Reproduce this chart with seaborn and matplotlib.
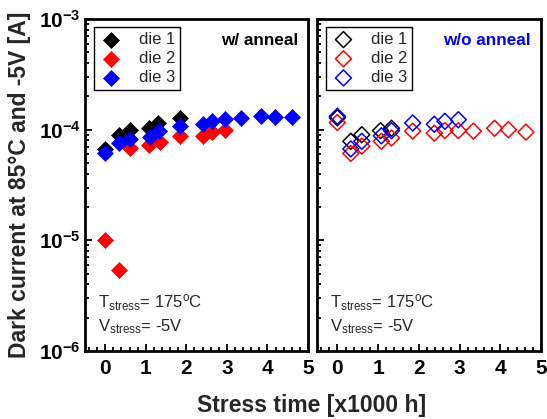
import numpy as np
import pandas as pd
import matplotlib
matplotlib.use("Agg")
import matplotlib.pyplot as plt
import seaborn as sns
from matplotlib.ticker import LogLocator, MultipleLocator, FuncFormatter, NullFormatter

# ---- data ----
dies = ["die 1", "die 2", "die 3"]
colors = ["black", "red", "blue"]

# with anneal
wa_t1 = [0.0, 0.33, 0.6, 1.08, 1.31, 1.85]
wa_i1 = [6.7e-5, 9.0e-5, 1.0e-4, 1.03e-4, 1.15e-4, 1.27e-4]
wa_t2 = [0.0, 0.35, 0.6, 1.08, 1.35, 1.85, 2.41, 2.64, 2.95]
wa_i2 = [1.0e-5, 5.4e-6, 6.9e-5, 7.2e-5, 7.7e-5, 8.7e-5, 8.7e-5, 9.5e-5, 9.9e-5]
wa_t3 = [0.0, 0.33, 0.6, 1.1, 1.33, 1.85, 2.41, 2.64, 2.95, 3.35, 3.85, 4.18, 4.6]
wa_i3 = [6.2e-5, 7.5e-5, 8.2e-5, 8.5e-5, 9.8e-5, 1.09e-4, 1.12e-4, 1.19e-4, 1.25e-4,
         1.27e-4, 1.34e-4, 1.30e-4, 1.30e-4]

# without anneal
wo_t1 = [0.0, 0.33, 0.6, 1.06, 1.33]
wo_i1 = [1.28e-4, 7.85e-5, 9.0e-5, 9.8e-5, 1.03e-4]
wo_t2 = [0.0, 0.33, 0.6, 1.08, 1.33, 1.85, 2.38, 2.64, 2.97, 3.34, 3.86, 4.2, 4.63]
wo_i2 = [1.16e-4, 6.1e-5, 7.1e-5, 7.85e-5, 8.4e-5, 9.7e-5, 9.3e-5, 9.8e-5, 9.8e-5,
         9.7e-5, 1.03e-4, 1.0e-4, 9.5e-5]
wo_t3 = [0.0, 0.33, 0.6, 1.08, 1.33, 1.85, 2.38, 2.64, 2.97]
wo_i3 = [1.32e-4, 6.7e-5, 7.85e-5, 8.8e-5, 9.8e-5, 1.15e-4, 1.12e-4, 1.19e-4, 1.23e-4]

panel_titles = ["w/ anneal", "w/o anneal"]
title_colors = ["black", "blue"]
xticks = [0, 1, 2, 3, 4, 5]
ylabel = "Dark current at 85\u00b0C and -5V [A]"
xlabel = "Stress time [x1000 h]"

sns.set_theme(style="ticks")
plt.rcParams["font.family"] = ["Liberation Sans", "DejaVu Sans"]
plt.rcParams["mathtext.fontset"] = "custom"
plt.rcParams["mathtext.rm"] = "Liberation Sans"
plt.rcParams["mathtext.it"] = "Liberation Sans:italic"
plt.rcParams["mathtext.bf"] = "Liberation Sans:bold"

fig = plt.figure(figsize=(5.47, 4.19), dpi=100)
ax1 = fig.add_axes([85/547, 68/419, 223/547, 332/419])
ax2 = fig.add_axes([317/547, 68/419, 224/547, 332/419])

def build(ts, is_):
    frames = []
    for d, t, i in zip(dies, ts, is_):
        frames.append(pd.DataFrame({"t": t, "I": i, "die": d}))
    return frames

left = build([wa_t1, wa_t2, wa_t3], [wa_i1, wa_i2, wa_i3])
right = build([wo_t1, wo_t2, wo_t3], [wo_i1, wo_i2, wo_i3])

for df, c in zip(left, colors):
    sns.scatterplot(data=df, x="t", y="I", ax=ax1, marker="D", s=66,
                    color=c, edgecolor=c, linewidth=0.5, label=df["die"].iloc[0], zorder=3)
for df, c in zip(right, colors):
    sns.scatterplot(data=df, x="t", y="I", ax=ax2, marker="D", s=66,
                    facecolor="none", color=c, edgecolor=c, linewidth=1.1,
                    label=df["die"].iloc[0], zorder=3)

def sup_fmt(v, pos):
    e = int(round(np.log10(v)))
    return r"$\mathbf{10^{%d}}$" % e

for k, ax in enumerate([ax1, ax2]):
    ax.set_yscale("log")
    ax.set_ylim(1e-6, 1e-3)
    ax.set_xlim(-0.5, 5.0)
    ax.set_xticks(xticks)
    ax.xaxis.set_minor_locator(MultipleLocator(0.2))
    ax.yaxis.set_major_locator(LogLocator(base=10, numticks=10))
    ax.yaxis.set_minor_locator(LogLocator(base=10, subs=np.arange(2, 10), numticks=20))
    ax.yaxis.set_minor_formatter(NullFormatter())
    ax.tick_params(which="both", direction="in", width=1.3, colors="black")
    ax.tick_params(which="major", length=5)
    ax.tick_params(which="minor", length=3)
    ax.tick_params(axis="x", labelsize=15, pad=6)
    ax.tick_params(axis="y", labelsize=15, pad=3)
    for sp in ax.spines.values():
        sp.set_visible(True)
        sp.set_linewidth(2.0)
        sp.set_color("black")
    ax.set_xlabel("")
    ax.set_ylabel("")
    ax.set_facecolor("white")
    ax.text(0.955, 0.935, panel_titles[k], transform=ax.transAxes, ha="right", va="center",
            fontsize=12.3, fontweight="bold", color=title_colors[k])
    ax.text(0.06, 0.13, r"T$_{\rm stress}$= 175$^{\rm o}$C", transform=ax.transAxes,
            ha="left", va="baseline", fontsize=12)
    ax.text(0.06, 0.06, r"V$_{\rm stress}$= -5V", transform=ax.transAxes,
            ha="left", va="baseline", fontsize=12)
    leg = ax.legend(loc="upper left", bbox_to_anchor=(0.04, 0.976), fontsize=12,
                    frameon=True, fancybox=False, edgecolor="black", framealpha=1,
                    handletextpad=0.9, labelspacing=0.25, borderpad=0.3,
                    handlelength=1.5, borderaxespad=0.0, markerscale=1.0)
    leg.get_frame().set_linewidth(1.0)

ax1.yaxis.set_major_formatter(FuncFormatter(sup_fmt))
ax2.yaxis.set_major_formatter(NullFormatter())
for lab in ax1.get_xticklabels() + ax2.get_xticklabels():
    lab.set_fontweight("bold")

fig.text(20/547, 0.5 + (419/2 - 185)/419, ylabel, rotation=90, ha="center", va="center",
         fontsize=16.5, fontweight="bold")
fig.text(312/547, 1 - 405/419, xlabel, ha="center", va="center", fontsize=16.5,
         fontweight="bold")

fig.savefig("out.png", dpi=100, facecolor="white")
